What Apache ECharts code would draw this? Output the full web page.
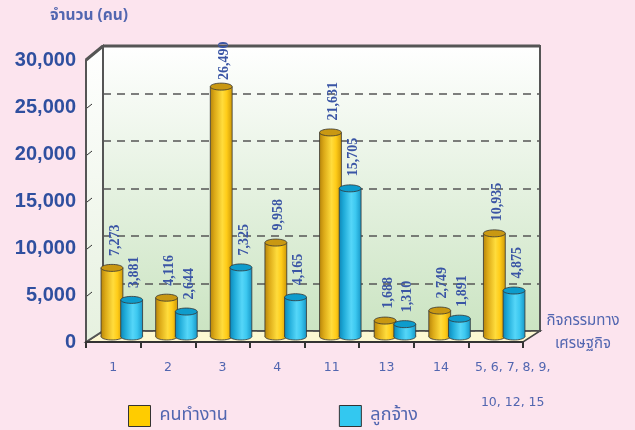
<!DOCTYPE html>
<html><head><meta charset="utf-8">
<script src="https://cdn.jsdelivr.net/npm/echarts@6/dist/echarts.min.js"></script>
<style>html,body{margin:0;padding:0;background:#fce4ee;}#c{width:635px;height:430px;}</style>
</head><body><div id="c"></div>
<script>
// ---- data ----
const categories = ['1', '2', '3', '4', '11', '13', '14', '5, 6, 7, 8, 9,\n10, 12, 15'];
const workers   = [7273, 4116, 26490, 9958, 21631, 1688, 2749, 10935];
const employees = [3881, 2644, 7325, 4165, 15705, 1310, 1891, 4875];
const seriesNames = ['คนทำงาน', 'ลูกจ้าง'];
const yMin = 0, yMax = 30000, yStep = 5000;
const yTitle = 'จำนวน (คน)';
const xTitleLines = ['กิจกรรมทาง', 'เศรษฐกิจ'];

// ---- layout ----
const W = 635, H = 430;
const FRONT = {left: 86, right: 112, top: 60, bottom: 88};
const MID   = {left: 94.5, right: 103.5, top: 53.5, bottom: 93.5};
const BACK  = {left: 103, right: 95, top: 46, bottom: 99};
const TXT = '#5266b0';

function ellipsePts(cx, cy, rx, ry) {
  const p = [];
  for (let k = 0; k < 40; k++) {
    const a = 2 * Math.PI * k / 40;
    p.push([cx + rx * Math.cos(a), cy + ry * Math.sin(a)]);
  }
  return p;
}
function cylRender(off, bodyStops, topFill) {
  return function (params, api) {
    const i = api.value(0), v = api.value(1);
    const t = api.coord([i, v]), b = api.coord([i, 0]);
    const band = api.size([1, 0])[0];
    const w = band * 0.4, rx = w / 2, ry = rx * 0.32;
    const cx = t[0] + band * off;
    const grad = {type: 'linear', x: 0, y: 0, x2: 1, y2: 0, colorStops: bodyStops};
    const lbl = echarts.format.addCommas(v);
    const ly = Math.max(t[1] - 12, 80);
    return {type: 'group', children: [
      {type: 'polygon', shape: {points: ellipsePts(cx, b[1], rx, ry)}, style: {fill: grad, stroke: '#333', lineWidth: 0.8}},
      {type: 'rect', shape: {x: cx - rx, y: t[1], width: w, height: b[1] - t[1]}, style: {fill: grad}},
      {type: 'line', shape: {x1: cx - rx, y1: t[1], x2: cx - rx, y2: b[1]}, style: {stroke: '#333', lineWidth: 0.8}},
      {type: 'line', shape: {x1: cx + rx, y1: t[1], x2: cx + rx, y2: b[1]}, style: {stroke: '#333', lineWidth: 0.8}},
      {type: 'polygon', shape: {points: ellipsePts(cx, t[1], rx, ry)}, style: {fill: topFill, stroke: '#333', lineWidth: 0.8}},
      {type: 'text', x: cx + 3, y: ly, rotation: Math.PI / 2,
        style: {text: lbl, fill: '#3a55a5', font: 'bold 14px "Liberation Serif"', align: 'left', verticalAlign: 'middle'}}
    ]};
  };
}
const yellowStops = [{offset: 0, color: '#b8860b'}, {offset: 0.2, color: '#dcaa18'}, {offset: 0.55, color: '#ffdc3c'}, {offset: 0.75, color: '#ffcc18'}, {offset: 1, color: '#cf9a08'}];
const cyanStops = [{offset: 0, color: '#0f88b8'}, {offset: 0.2, color: '#1eaad8'}, {offset: 0.55, color: '#55d6f8'}, {offset: 0.75, color: '#3cc8f0'}, {offset: 1, color: '#1898c8'}];

const fx0 = FRONT.left, fx1 = W - FRONT.right, fy0 = H - FRONT.bottom, fyT = FRONT.top;
const bx0 = BACK.left, bx1 = W - BACK.right, by0 = H - BACK.bottom, byT = BACK.top;

// small side-wall tick marks
const sideTicks = [];
for (let v = yStep; v < yMax; v += yStep) {
  const yf = fy0 - (fy0 - fyT) * (v - yMin) / (yMax - yMin);
  sideTicks.push({type: 'line', z: 2, shape: {x1: fx0 + 1, y1: yf + 1, x2: fx0 + 6, y2: yf - 3}, style: {stroke: '#333', lineWidth: 1}});
}

const chart = echarts.init(document.getElementById('c'));
chart.setOption({
  backgroundColor: '#fce4ee',
  animation: false,
  grid: [
    Object.assign({show: true, z: 0, borderColor: '#555', borderWidth: 2,
      backgroundColor: new echarts.graphic.LinearGradient(0, 0, 0, 1, [{offset: 0, color: '#ffffff'}, {offset: 1, color: '#cbe4c2'}])}, BACK),
    Object.assign({}, MID),
    Object.assign({}, FRONT)
  ],
  xAxis: [
    {gridIndex: 0, type: 'category', data: categories, show: false},
    {gridIndex: 1, type: 'category', data: categories, show: false},
    {gridIndex: 2, type: 'category', data: categories, z: 6,
      axisLine: {lineStyle: {color: '#333', width: 2}},
      axisTick: {show: true, length: 6, lineStyle: {color: '#333', width: 2}},
      axisLabel: {interval: 0, margin: 8, color: TXT, fontSize: 12.5, fontFamily: 'DejaVu Sans', lineHeight: 35,
        formatter: function (v, i) {
          if (v.indexOf('\n') >= 0) return v.split('\n').map(s => '{w|' + s + '}').join('\n');
          return v;
        },
        rich: {w: {padding: [0, 0, 0, 34], color: TXT, fontSize: 12.5, fontFamily: 'DejaVu Sans', lineHeight: 35}}}}
  ],
  yAxis: [
    {gridIndex: 0, type: 'value', min: yMin, max: yMax, interval: yStep, z: 1,
      axisLine: {show: false}, axisTick: {show: false}, axisLabel: {show: false},
      splitLine: {show: true, lineStyle: {color: '#555', width: 1.5, type: [8, 6]}}},
    {gridIndex: 1, type: 'value', min: yMin, max: yMax, interval: yStep, show: false},
    {gridIndex: 2, type: 'value', min: yMin, max: yMax, interval: yStep, z: 6,
      axisLine: {show: false}, axisTick: {show: false}, splitLine: {show: false},
      axisLabel: {margin: 10, color: '#2f4f9f', fontSize: 20, fontWeight: 'bold', fontFamily: 'Liberation Sans',
        formatter: v => echarts.format.addCommas(v)}}
  ],
  legend: {
    left: 128, top: 405, itemWidth: 22, itemHeight: 21, itemGap: 111, icon: 'rect', padding: 0,
    itemStyle: {borderColor: '#333', borderWidth: 1},
    textStyle: {color: TXT, fontSize: 18, padding: [5, 0, 0, 4], fontFamily: 'Noto Sans Thai, Noto Sans, sans-serif'},
    data: seriesNames
  },
  graphic: [
    {type: 'polygon', z: 1, shape: {points: [[fx0, fy0], [fx1, fy0], [bx1, by0], [bx0, by0]]},
      style: {fill: '#fdf8d2', stroke: '#444', lineWidth: 1.5}},
    {type: 'polygon', z: 1, shape: {points: [[fx0, fyT], [bx0, byT], [bx0, by0], [fx0, fy0]]},
      style: {fill: new echarts.graphic.LinearGradient(0, 0, 0, 1, [{offset: 0, color: '#ffffff'}, {offset: 1, color: '#e6f1df'}]), stroke: '#555', lineWidth: 2}},
    {type: 'line', z: 2, shape: {x1: bx0, y1: byT, x2: bx1, y2: byT}, style: {stroke: '#555', lineWidth: 3}},
    {type: 'line', z: 2, shape: {x1: fx0, y1: fyT, x2: bx0, y2: byT}, style: {stroke: '#555', lineWidth: 3}},
    {type: 'line', z: 2, shape: {x1: fx0, y1: fyT, x2: fx0, y2: fy0}, style: {stroke: '#555', lineWidth: 2}}
  ].concat(sideTicks).concat([
    {type: 'text', x: 50, y: 17, style: {text: yTitle, fill: TXT, font: 'bold 15.5px "Noto Sans Thai", "Noto Sans", sans-serif', verticalAlign: 'middle'}},
    {type: 'text', x: 583, y: 322, style: {text: xTitleLines[0], fill: TXT, font: '15px "Noto Sans Thai", "Noto Sans", sans-serif', align: 'center', verticalAlign: 'middle'}},
    {type: 'text', x: 583, y: 345, style: {text: xTitleLines[1], fill: TXT, font: '15px "Noto Sans Thai", "Noto Sans", sans-serif', align: 'center', verticalAlign: 'middle'}}
  ]),
  series: [
    {name: seriesNames[0], type: 'custom', xAxisIndex: 1, yAxisIndex: 1, z: 3,
      itemStyle: {color: '#ffcc00'}, encode: {x: 0, y: 1},
      renderItem: cylRender(-0.18, yellowStops, '#c99812'),
      data: workers.map((v, i) => [i, v])},
    {name: seriesNames[1], type: 'custom', xAxisIndex: 1, yAxisIndex: 1, z: 4,
      itemStyle: {color: '#33c8f0'}, encode: {x: 0, y: 1},
      renderItem: cylRender(0.18, cyanStops, '#0e9ccc'),
      data: employees.map((v, i) => [i, v])}
  ]
});
</script></body></html>
